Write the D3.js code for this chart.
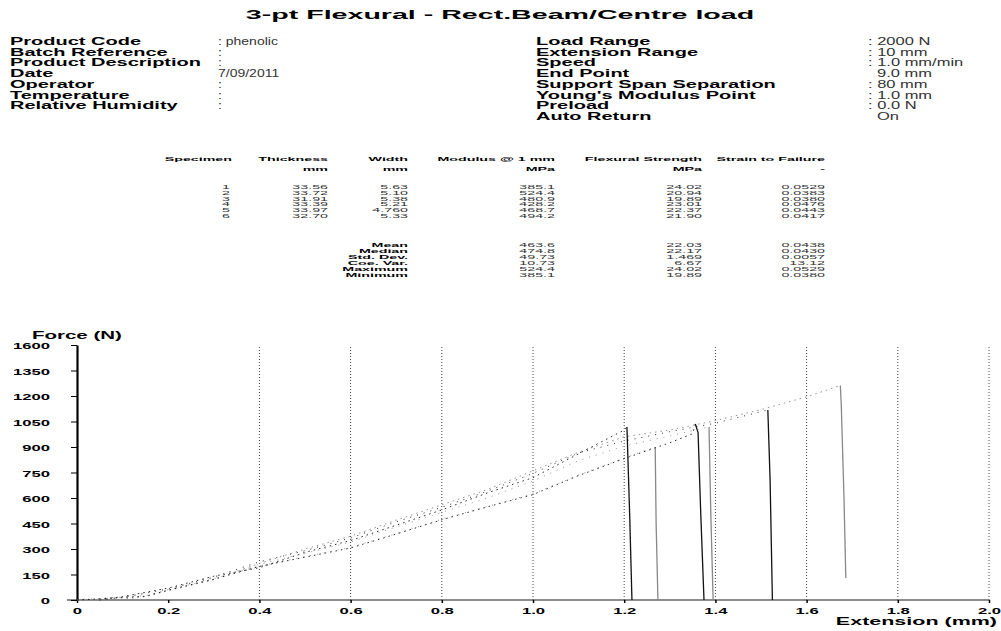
<!DOCTYPE html>
<html>
<head>
<meta charset="utf-8">
<script src="https://cdn.jsdelivr.net/npm/d3@7"></script>
<style>
  body { margin: 0; background: #fff; }
  svg { display: block; font-family: "Liberation Sans", Arial, sans-serif; }
</style>
</head>
<body>
<script>
// header info
var titleText = "3-pt Flexural - Rect.Beam/Centre load";
var leftLabels = ["Product Code", "Batch Reference", "Product Description", "Date", "Operator", "Temperature", "Relative Humidity"];
var leftValues = [": phenolic", ":", ":", "7/09/2011", ":", ":", ":"];
var rightLabels = ["Load Range", "Extension Range", "Speed", "End Point", "Support Span Separation", "Young's Modulus Point", "Preload", "Auto Return"];
var rightValues = [": 2000 N", ": 10 mm", ": 1.0 mm/min", "9.0 mm", ": 80 mm", ": 1.0 mm", ": 0.0 N", "On"];

// results table
var tableHeaders = ["Specimen", "Thickness", "Width", "Modulus @ 1 mm", "Flexural Strength", "Strain to Failure"];
var tableUnits = ["", "mm", "mm", "MPa", "MPa", "-"];
var specimenNo = ["1", "2", "3", "4", "5", "6"];
var thickness = ["33.56", "33.72", "31.91", "33.39", "33.97", "32.70"];
var widthMm = ["5.63", "5.10", "5.38", "5.21", "4.760", "5.33"];
var modulus = ["385.1", "524.4", "480.9", "428.2", "468.7", "494.2"];
var flexStrength = ["24.02", "20.94", "19.89", "23.01", "22.37", "21.90"];
var strainFail = ["0.0529", "0.0383", "0.0380", "0.0476", "0.0443", "0.0417"];
var statLabels = ["Mean", "Median", "Std. Dev.", "Coe. Var.", "Maximum", "Minimum"];
var statModulus = ["463.6", "474.8", "49.73", "10.73", "524.4", "385.1"];
var statFlex = ["22.03", "22.17", "1.469", "6.67", "24.02", "19.89"];
var statStrain = ["0.0438", "0.0430", "0.0057", "13.12", "0.0529", "0.0380"];

// chart axes
var xTicks = [0, 0.2, 0.4, 0.6, 0.8, 1.0, 1.2, 1.4, 1.6, 1.8, 2.0];
var xTickLabels = ["0", "0.2", "0.4", "0.6", "0.8", "1.0", "1.2", "1.4", "1.6", "1.8", "2.0"];
var xGrid = [0.4, 0.6, 0.8, 1.0, 1.2, 1.4, 1.6, 1.8, 2.0];
var yTicks = [0, 150, 300, 450, 600, 750, 900, 1050, 1200, 1350, 1500];
var yTickLabels = ["0", "150", "300", "450", "600", "750", "900", "1050", "1200", "1350", "1600"];

// load / extension curves [mm, N]
var curveS1 = [[0, 0], [0.1, 5], [0.15, 20], [0.2, 55], [0.3, 120], [0.4, 215], [0.5, 300], [0.6, 375], [0.7, 470], [0.8, 560], [0.9, 650], [1.0, 760], [1.1, 870], [1.2, 960], [1.3, 1000], [1.4, 1055], [1.5, 1120], [1.6, 1195], [1.674, 1262], [1.676, 1150], [1.682, 600], [1.686, 130]];
var curveS2 = [[0.05, 0], [0.1, 15], [0.2, 65], [0.3, 135], [0.4, 225], [0.5, 290], [0.6, 365], [0.7, 460], [0.8, 545], [0.9, 640], [1.0, 745], [1.1, 865], [1.2, 935], [1.3, 990], [1.4, 1040], [1.515, 1118], [1.52, 700], [1.525, 0]];
var curveS3 = [[0.05, 2], [0.1, 20], [0.2, 70], [0.3, 140], [0.4, 190], [0.5, 280], [0.6, 350], [0.7, 440], [0.8, 530], [0.9, 630], [1.0, 720], [1.1, 860], [1.2, 1000], [1.206, 1018], [1.212, 500], [1.217, 0]];
var curveS4 = [[0, 2], [0.15, 25], [0.2, 60], [0.3, 125], [0.4, 200], [0.5, 255], [0.6, 310], [0.7, 390], [0.8, 475], [0.9, 550], [1.0, 625], [1.1, 735], [1.2, 835], [1.268, 900], [1.27, 450], [1.274, 0]];
var curveS5 = [[0, 0], [0.15, 22], [0.2, 58], [0.3, 122], [0.4, 198], [0.5, 252], [0.6, 306], [0.7, 388], [0.8, 472], [0.9, 548], [1.0, 620], [1.1, 732], [1.2, 832], [1.3, 925], [1.35, 978], [1.356, 1035], [1.362, 985], [1.368, 500], [1.375, 0]];
var curveS6 = [[0.05, 5], [0.1, 18], [0.2, 62], [0.3, 130], [0.4, 210], [0.5, 275], [0.6, 340], [0.7, 430], [0.8, 515], [0.9, 600], [1.0, 700], [1.1, 820], [1.2, 905], [1.3, 965], [1.386, 1018], [1.39, 500], [1.395, 0]];

var curves = [curveS1, curveS2, curveS3, curveS4, curveS5, curveS6];
var curveColors = ["#888", "#111", "#111", "#888", "#111", "#888"];

var W = 1001, H = 631;
var svg = d3.select("body").append("svg").attr("width", W).attr("height", H);

// stretched text helper (the report font is very wide)
function stext(g, x, y, str, size, sx, bold, anchor, fill) {
    return g.append("text")
        .attr("transform", "translate(" + x + "," + y + ") scale(" + sx + ",1)")
        .attr("font-size", size)
        .attr("font-weight", bold ? "bold" : "normal")
        .attr("text-anchor", anchor || "start")
        .attr("fill", fill || "#000")
        .text(str);
}

// title + header block
stext(svg, 500, 19, titleText, 13, 2.2, true, "middle");
var rowH = 10.7;
leftLabels.forEach(function(t, i) {
    stext(svg, 10, 45 + i * rowH, t, 10, 2.0, true);
});
leftValues.forEach(function(t, i) {
    stext(svg, 218, 45 + i * rowH, t, 10, 1.4, false, "start", "#333");
});
rightLabels.forEach(function(t, i) {
    stext(svg, 536, 45 + i * rowH, t, 10, 2.0, true);
});
rightValues.forEach(function(t, i) {
    var x = t.charAt(0) == ":" ? 868 : 877;
    stext(svg, x, 45 + i * rowH, t, 10, 1.65, false, "start", "#333");
});

// results table
var colRight = [232, 328, 408, 555, 702, 825];
var tsx = 2.3, tfs = 6.2;
tableHeaders.forEach(function(t, i) {
    stext(svg, colRight[i], 161, t, tfs, tsx, true, "end");
    stext(svg, colRight[i], 171, tableUnits[i], tfs, tsx, true, "end");
});
var cols = [specimenNo, thickness, widthMm, modulus, flexStrength, strainFail];
specimenNo.forEach(function(d, r) {
    cols.forEach(function(col, c) {
        stext(svg, colRight[c] - (c == 0 ? 2 : 0), 189 + r * 5.8, col[r], tfs, tsx, false, "end", "#333");
    });
});
var statCols = [statModulus, statFlex, statStrain];
statLabels.forEach(function(t, r) {
    stext(svg, colRight[2], 247 + r * 6, t, tfs, tsx, true, "end");
    statCols.forEach(function(col, c) {
        stext(svg, colRight[c + 3], 247 + r * 6, col[r], tfs, tsx, false, "end", "#333");
    });
});

// chart
var x = d3.scaleLinear().domain([0, 2]).range([77, 989]);
var y = d3.scaleLinear().domain([0, 1500]).range([600, 345]);

// dotted grid
svg.append("g").selectAll("line").data(xGrid).enter().append("line")
    .attr("x1", function(d) { return x(d); })
    .attr("x2", function(d) { return x(d); })
    .attr("y1", y(0))
    .attr("y2", y(1500))
    .attr("stroke", "#444")
    .attr("stroke-width", 1)
    .attr("stroke-dasharray", "1,2");

// x axis line reaches a little left of the y axis
svg.append("line")
    .attr("x1", x(-0.022)).attr("x2", x(2))
    .attr("y1", y(0)).attr("y2", y(0))
    .attr("stroke", "#666").attr("stroke-width", 1.5);

var xAxis = d3.axisBottom(x).tickValues(xTicks).tickSize(3).tickSizeOuter(0)
    .tickFormat(function(d, i) { return xTickLabels[i]; });
var gx = svg.append("g").attr("transform", "translate(0," + y(0) + ")").call(xAxis);
gx.select(".domain").remove();
gx.selectAll(".tick line").attr("stroke", "#000").attr("stroke-width", 1.5);
gx.selectAll(".tick text")
    .attr("y", null).attr("dy", null)
    .attr("transform", "translate(0,14) scale(1.85,1)")
    .attr("font-size", 9).attr("font-weight", "bold")
    .attr("font-family", "Liberation Sans, Arial, sans-serif")
    .attr("fill", "#000");

var yAxis = d3.axisLeft(y).tickValues(yTicks).tickSize(6).tickSizeOuter(0)
    .tickFormat(function(d, i) { return yTickLabels[i]; });
var gy = svg.append("g").attr("transform", "translate(" + x(0) + ",0)").call(yAxis);
gy.select(".domain").attr("stroke", "#000").attr("stroke-width", 2.2);
gy.selectAll(".tick line").attr("stroke", "#000").attr("stroke-width", 1);
gy.selectAll(".tick text")
    .attr("x", null).attr("dy", null)
    .attr("transform", "translate(-27,3.5) scale(1.85,1)")
    .attr("font-size", 9).attr("font-weight", "bold")
    .attr("font-family", "Liberation Sans, Arial, sans-serif")
    .attr("fill", "#000");

stext(svg, 32, 339, "Force (N)", 10, 2.05, true);
stext(svg, 997, 625, "Extension (mm)", 10, 2.15, true, "end");

// curves: rising part is sparse samples (dotted), the break is a solid drop
var line = d3.line()
    .x(function(d) { return x(d[0]); })
    .y(function(d) { return y(d[1]); });
var gc = svg.append("g").attr("fill", "none");
curves.forEach(function(pts, i) {
    var pk = d3.maxIndex(pts, function(d) { return d[1]; });
    gc.append("path")
        .attr("d", line(pts.slice(0, pk + 1)))
        .attr("stroke", curveColors[i])
        .attr("stroke-width", 0.9)
        .attr("stroke-dasharray", i % 2 ? "1,6" : "1.5,4");
    gc.append("path")
        .attr("d", line(pts.slice(pk)))
        .attr("stroke", curveColors[i])
        .attr("stroke-width", 1.3);
});
</script>
</body>
</html>
